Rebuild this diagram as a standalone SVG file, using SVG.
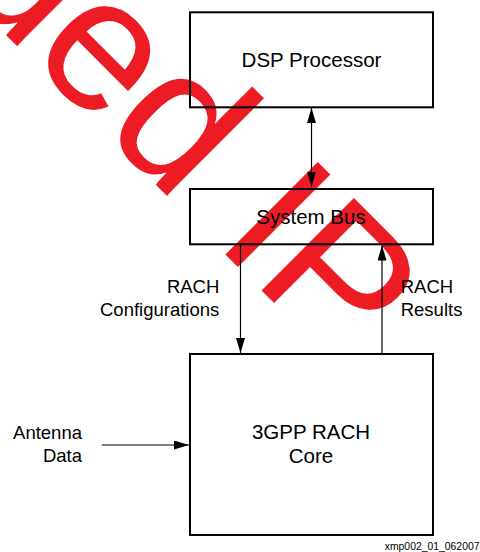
<svg xmlns="http://www.w3.org/2000/svg" width="480" height="552" viewBox="0 0 480 552">
  <style>
    .box { fill: none; stroke: #000; stroke-width: 2; }
    .conn { stroke: #000; stroke-width: 1.2; fill: none; }
    .t { font-family: "Liberation Sans", Arial, Helvetica, sans-serif; fill: #000; }
    .big { font-size: 20.5px; text-anchor: middle; }
    .lbl { font-size: 18.5px; }
    .wm { font-family: "Liberation Sans", Arial, Helvetica, sans-serif; font-size: 190px; fill: #ed1c24; }
  </style>
  <defs>
    <marker id="ah" viewBox="0 0 15 9" refX="15" refY="4.5" markerWidth="15" markerHeight="9" orient="auto-start-reverse" markerUnits="userSpaceOnUse">
      <path d="M0,0 L15,4.5 L0,9 z" fill="#000"/>
    </marker>
  </defs>
  <rect width="480" height="552" fill="#fff"/>
  <g id="watermark">
    <text class="wm" transform="translate(-48.4,-19.4) rotate(45)">ued IP</text>
  </g>
  <g id="connectors">
    <line class="conn" x1="311.5" y1="108" x2="311.5" y2="186.5" marker-start="url(#ah)" marker-end="url(#ah)"/>
    <line class="conn" x1="240.5" y1="245" x2="240.5" y2="353" marker-end="url(#ah)"/>
    <line class="conn" x1="382" y1="353" x2="382" y2="245.5" stroke="#333" marker-end="url(#ah)"/>
    <line class="conn" x1="101.7" y1="445" x2="189" y2="445" marker-end="url(#ah)"/>
  </g>
  <g id="dsp">
    <rect class="box" x="190" y="12.3" width="243" height="95"/>
    <text class="t big" x="311.5" y="66.7">DSP Processor</text>
  </g>
  <g id="bus">
    <rect class="box" x="190" y="189" width="243" height="55.3"/>
    <text class="t big" x="311" y="223.5">System Bus</text>
  </g>
  <g id="core">
    <rect class="box" x="190" y="354" width="243" height="181"/>
    <text class="t big" x="311" y="439.3">3GPP RACH</text>
    <text class="t big" x="311" y="463.3">Core</text>
  </g>
  <g id="labels">
    <text class="t lbl" x="219.3" y="293.3" text-anchor="end">RACH</text>
    <text class="t lbl" x="219.3" y="315.5" text-anchor="end">Configurations</text>
    <text class="t lbl" x="400.7" y="293.3">RACH</text>
    <text class="t lbl" x="400.7" y="315.5">Results</text>
    <text class="t lbl" x="82" y="439" text-anchor="end">Antenna</text>
    <text class="t lbl" x="82" y="461.7" text-anchor="end">Data</text>
    <text class="t" x="479.5" y="549.5" text-anchor="end" font-size="10.4">xmp002_01_062007</text>
  </g>
</svg>
